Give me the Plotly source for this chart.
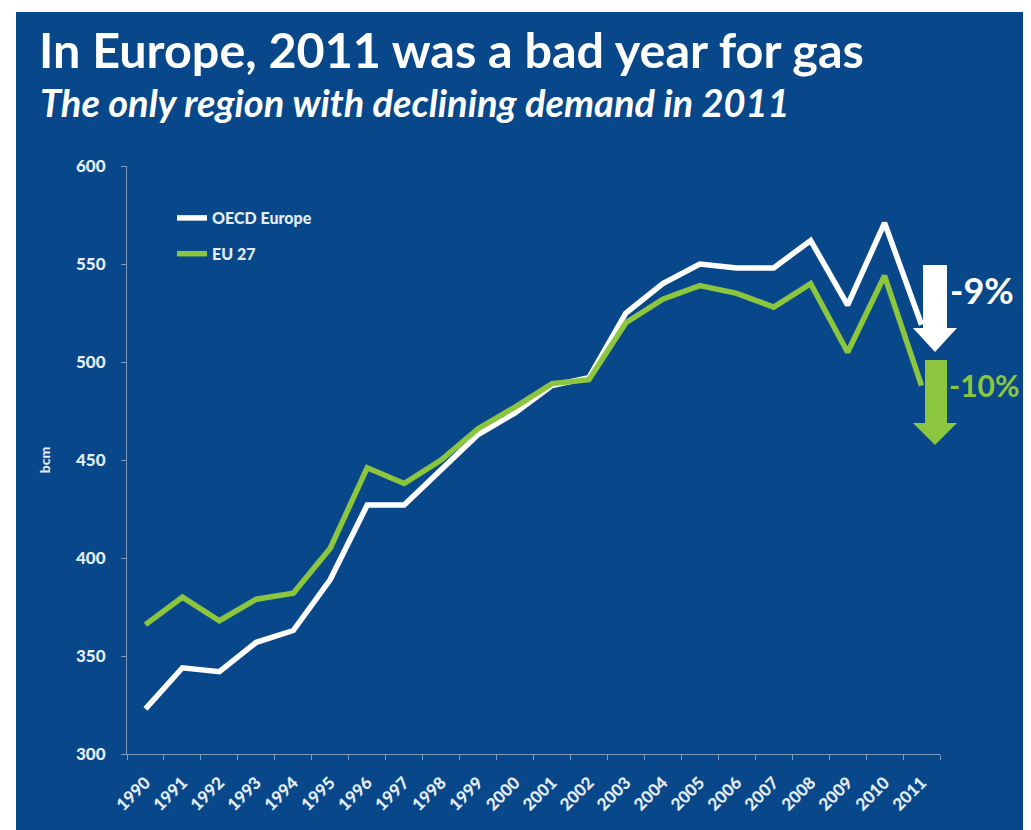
import plotly.graph_objects as go

years = list(range(1990, 2012))
oecd_europe = [323, 344, 342, 357, 363, 389, 427, 427, 445, 463, 474, 488, 492, 525, 540, 550, 548, 548, 562, 529, 571, 519]
eu27 = [366, 380, 368, 379, 382, 405, 446, 438, 450, 466, 477, 489, 491, 520, 532, 539, 535, 528, 540, 505, 544, 488]
y_ticks = [300, 350, 400, 450, 500, 550, 600]

BLUE = "#08488a"
GREEN = "#8cc63f"
TXT = "#e4ecf5"
AXIS = "#7f9cc0"

OFF = 8  # browser body margin
W, H = 1031 - OFF, 830 - OFF
L = 127 - OFF
R = W - (940 - OFF)
T = 166 - OFF
B = H - (754 - OFF)
PW, PH = W - L - R, H - T - B

def px(x):
    return (x - OFF - L) / PW

def py(y):
    return (H - B - (y - OFF)) / PH

fig = go.Figure()
fig.add_trace(go.Scatter(x=years, y=oecd_europe, mode="lines", name="OECD Europe",
                         line=dict(color="white", width=5.5), legendgroup="a"))
fig.add_trace(go.Scatter(x=years, y=eu27, mode="lines", name="EU 27",
                         line=dict(color=GREEN, width=5.5), legendgroup="b"))

font_main = "Lato, Open Sans, sans-serif"

fig.update_layout(
    width=W, height=H,
    margin=dict(l=L, r=R, t=T, b=B),
    paper_bgcolor=BLUE, plot_bgcolor=BLUE,
    font=dict(family=font_main, color=TXT),
    showlegend=True,
    legend=dict(x=px(172), y=py(201), xanchor="left", yanchor="top",
                bgcolor="rgba(0,0,0,0)", font=dict(size=16, color=TXT, weight=900),
                tracegroupgap=12, itemwidth=30),
    xaxis=dict(range=[1989.5, 2011.5], tickvals=years, ticktext=[str(y) for y in years],
               tickangle=-45, showgrid=False, zeroline=False, showline=True, linecolor=AXIS, linewidth=1,
               ticks="", tickfont=dict(size=17, color=TXT, weight=900), ticklabelstandoff=11,
               minor=dict(tick0=1989.5, dtick=1, ticks="outside", ticklen=5, tickcolor=AXIS, showgrid=False)),
    yaxis=dict(range=[300, 600], tickvals=y_ticks, showgrid=False, zeroline=False, showline=True,
               linecolor=AXIS, linewidth=1, ticks="outside", ticklen=5, tickcolor=AXIS,
               tickfont=dict(size=17, color=TXT, weight=900), ticklabelstandoff=12,
               title=dict(text="bcm", font=dict(size=14, color=TXT, weight=900), standoff=22)),
)

shapes = []
# white page margins
shapes.append(dict(type="rect", xref="paper", yref="paper", x0=px(0), x1=px(1040), y0=py(0), y1=py(12),
                   fillcolor="white", line=dict(width=0), layer="below"))
shapes.append(dict(type="rect", xref="paper", yref="paper", x0=px(0), x1=px(16), y0=py(0), y1=py(840),
                   fillcolor="white", line=dict(width=0), layer="below"))

def arrow(x0, x1, ytop, yhead, hx0, hx1, ytip, color):
    pts = [(x0, ytop), (x1, ytop), (x1, yhead), (hx1, yhead), ((hx0 + hx1) / 2, ytip), (hx0, yhead), (x0, yhead)]
    d = "M " + " L ".join(f"{px(a):.5f},{py(b):.5f}" for a, b in pts) + " Z"
    return dict(type="path", xref="paper", yref="paper", path=d, fillcolor=color, line=dict(width=0), layer="above")

shapes.append(arrow(923, 947, 265, 328, 913, 957, 352, "white"))
shapes.append(arrow(925, 947, 360, 423, 913, 957, 445, GREEN))
fig.update_layout(shapes=shapes)

ann = [
    dict(text="In Europe, 2011 was a bad year for gas", x=px(37), y=py(49), xanchor="left", yanchor="middle",
         font=dict(size=48.5, color="white", family=font_main, weight="bold")),
    dict(text="<i>The only region with declining demand in 2011</i>", x=px(38), y=py(102), xanchor="left",
         yanchor="middle", font=dict(size=38, color="white", family=font_main, weight="bold")),
    dict(text="-9%", x=px(948), y=py(290), xanchor="left", yanchor="middle",
         font=dict(size=36, color="white", family=font_main, weight="bold")),
    dict(text="-10%", x=px(947), y=py(385), xanchor="left", yanchor="middle",
         font=dict(size=30, color=GREEN, family=font_main, weight="bold")),
]
for a in ann:
    a.update(xref="paper", yref="paper", showarrow=False)
fig.update_layout(annotations=ann)

fig.write_html("out.html")
